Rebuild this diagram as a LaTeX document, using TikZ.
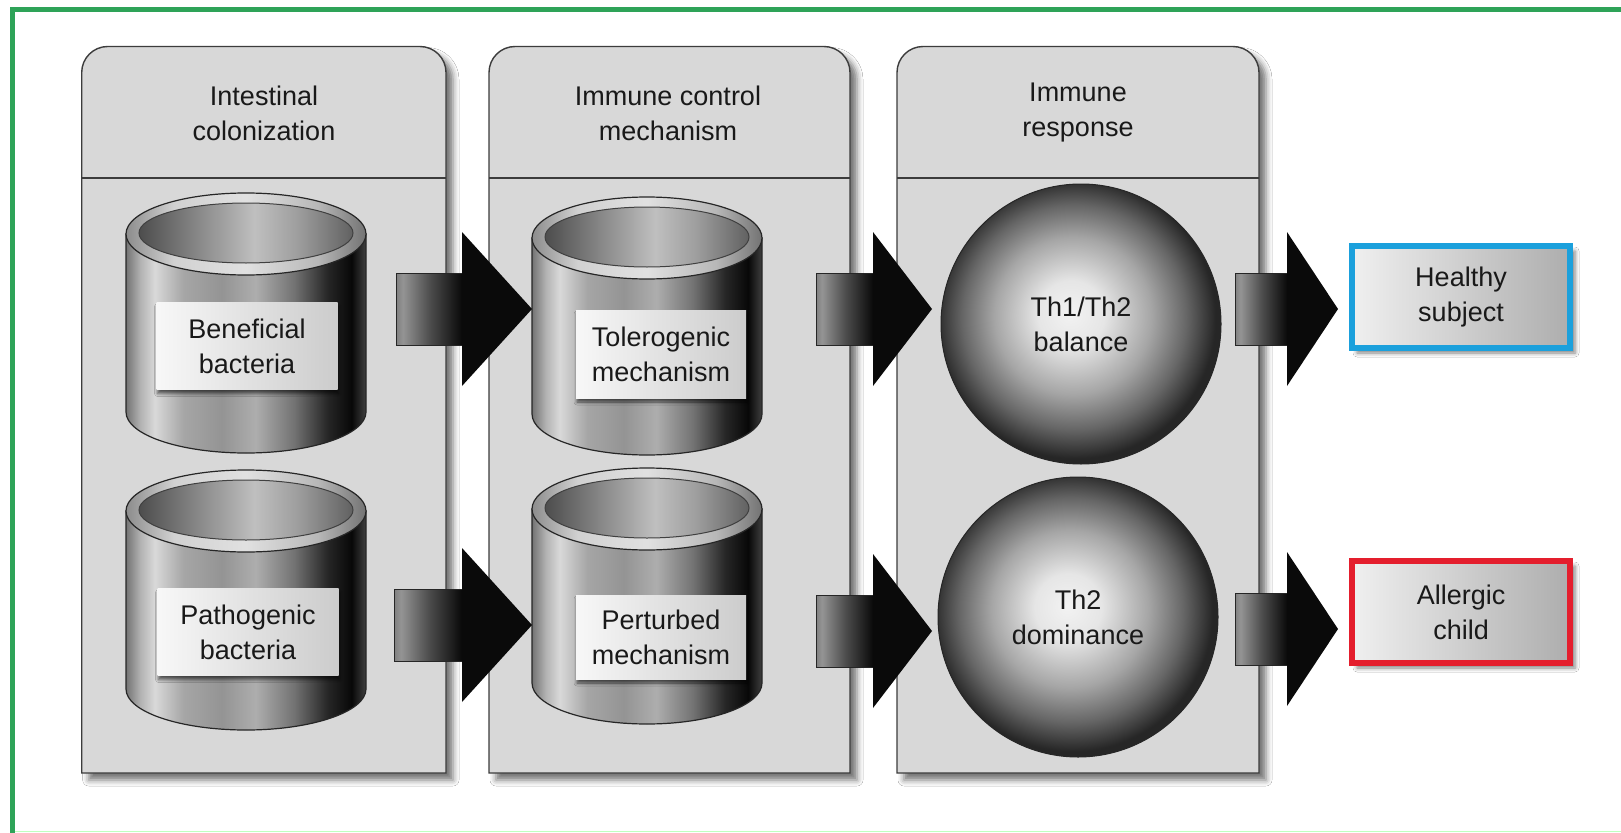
\documentclass[tikz,border=0pt]{standalone}
\usepackage{fontspec}
\setmainfont{Liberation Sans}
\usetikzlibrary{shadows.blur}
\definecolor{framegreen}{RGB}{46,163,88}
\definecolor{panelgray}{RGB}{216,216,216}
\definecolor{edgegray}{RGB}{60,60,60}
\definecolor{txt}{RGB}{25,25,25}
\definecolor{hblue}{RGB}{27,160,220}
\definecolor{ared}{RGB}{228,30,45}
\pgfdeclarehorizontalshading{cylbody}{100bp}{color(0bp)=(black!55); color(25bp)=(black!55); color(28bp)=(black!30); color(31bp)=(black!15); color(37bp)=(black!35); color(45bp)=(black!42); color(52bp)=(black!32); color(60bp)=(black!55); color(67bp)=(black!85); color(72bp)=(black!97); color(75bp)=(black!75); color(100bp)=(black!75)}
\pgfdeclarehorizontalshading{cylrim}{100bp}{color(0bp)=(black!45); color(25bp)=(black!45); color(35bp)=(black!18); color(50bp)=(black!12); color(65bp)=(black!28); color(75bp)=(black!55); color(100bp)=(black!55)}
\pgfdeclarehorizontalshading{cylhole}{100bp}{color(0bp)=(black!70); color(25bp)=(black!70); color(38bp)=(black!48); color(52bp)=(black!25); color(62bp)=(black!38); color(75bp)=(black!62); color(100bp)=(black!62)}
\pgfdeclareradialshading{sphere}{\pgfpoint{-2bp}{2bp}}{color(0bp)=(black!5); color(6bp)=(black!10); color(14bp)=(black!35); color(20bp)=(black!60); color(25bp)=(black!85); color(50bp)=(black!85)}
\pgfdeclarehorizontalshading{shaftshade}{100bp}{color(0bp)=(black!50); color(25bp)=(black!50); color(30bp)=(black!42); color(50bp)=(black!70); color(75bp)=(black!98); color(100bp)=(black!98)}

\newcommand\cylshape[4]{%
  \shadedraw[shading=cylbody, draw=black!85, line width=1.2pt]
    (#1-#4,#2) -- (#1-#4,#3) arc[start angle=180,end angle=360,x radius=#4pt,y radius=41pt] -- (#1+#4,#2) -- cycle;
  \shadedraw[shading=cylrim, draw=black!85, line width=1.2pt] (#1,#2) ellipse[x radius=#4pt, y radius=41pt];
  \shadedraw[shading=cylhole, draw=black!75, line width=1pt] (#1,#2-1) ellipse[x radius=#4pt-13pt, y radius=30pt];
}
\newcommand\panelshape[2]{%
  \draw[panelbox] (#1,773) -- (#1,72.5) arc[start angle=180,end angle=90,radius=26pt]
    -- (#2-26,46.5) arc[start angle=90,end angle=0,radius=26pt] -- (#2,773) -- cycle;
  \draw[edgegray, line width=1.4pt] (#1,178) -- (#2,178);
}
\newcommand\blockarr[4]{%
  \shadedraw[shading=shaftshade, draw=black!85, line width=1pt] (#1,#4-36) rectangle (#2+2,#4+36);
  \fill[black!96] (#2,#4-77) -- (#3,#4) -- (#2,#4+77) -- cycle;
}

\begin{document}
\begin{tikzpicture}[x=1pt,y=-1pt,
  font=\fontsize{27}{35}\selectfont, text=txt,
  panelbox/.style={draw=edgegray, line width=1.4pt, fill=panelgray,
    blur shadow={shadow xshift=7pt, shadow yshift=-7pt, shadow blur radius=6pt, shadow opacity=55}},
  head/.style={align=center, inner sep=0pt},
  lbl/.style={align=center, inner sep=0pt, left color=black!3, right color=black!20,
    blur shadow={shadow xshift=1pt, shadow yshift=-4pt, shadow blur radius=3pt, shadow opacity=60}},
  ball/.style={circle, shading=sphere, draw=black!85, line width=1pt, minimum size=280pt, align=center, inner sep=0pt},
  result/.style={align=center, inner sep=0pt, line width=6pt, left color=black!6, right color=black!32,
    minimum width=218pt, minimum height=102pt,
    blur shadow={shadow xshift=5pt, shadow yshift=-5pt, shadow blur radius=4pt, shadow opacity=50}}
]
\useasboundingbox (0,0) rectangle (1621,832);
\fill[white] (0,0) rectangle (1621,832);
% frame
\draw[framegreen, line width=5pt] (12.5,840) -- (12.5,9.5) -- (1630,9.5);
\draw[green!25, line width=1.2pt] (15,831.4) -- (1621,831.4);

% panels
\panelshape{81.7}{446}
\panelshape{489}{850}
\panelshape{897}{1259}

\node[head] (h1) at (264,113) {Intestinal\\colonization};
\node[head] (h2) at (668,113) {Immune control\\mechanism};
\node[head] (h3) at (1078,113) {Immune\\response};

% cylinders
\cylshape{246}{234}{412}{120}
\cylshape{246}{511}{689}{120}
\cylshape{647}{238}{414}{115}
\cylshape{647}{509}{683}{115}

\node[lbl, minimum width=181pt, minimum height=87pt] (ben) at (247,346) {Beneficial\\bacteria};
\node[lbl, minimum width=181pt, minimum height=87pt] (pat) at (248,632) {Pathogenic\\bacteria};
\node[lbl, minimum width=170pt, minimum height=88pt] (tol) at (661,354) {Tolerogenic\\mechanism};
\node[lbl, minimum width=170pt, minimum height=84pt] (per) at (661,637) {Perturbed\\mechanism};

% spheres
\node[ball] (bal) at (1081,324) {Th1/Th2\\balance};
\node[ball] (dom) at (1078,617) {Th2\\dominance};

% results
\node[result, draw=hblue] (hs) at (1461,297) {Healthy\\subject};
\node[result, draw=ared] (ac) at (1461,612) {Allergic\\child};

% block arrows
\blockarr{396}{462}{532}{309}
\blockarr{816}{873}{932}{309}
\blockarr{1235}{1287}{1338}{309}
\blockarr{394}{462}{532}{625}
\blockarr{816}{873}{932}{631}
\blockarr{1235}{1287}{1338}{629}
\end{tikzpicture}
\end{document}
